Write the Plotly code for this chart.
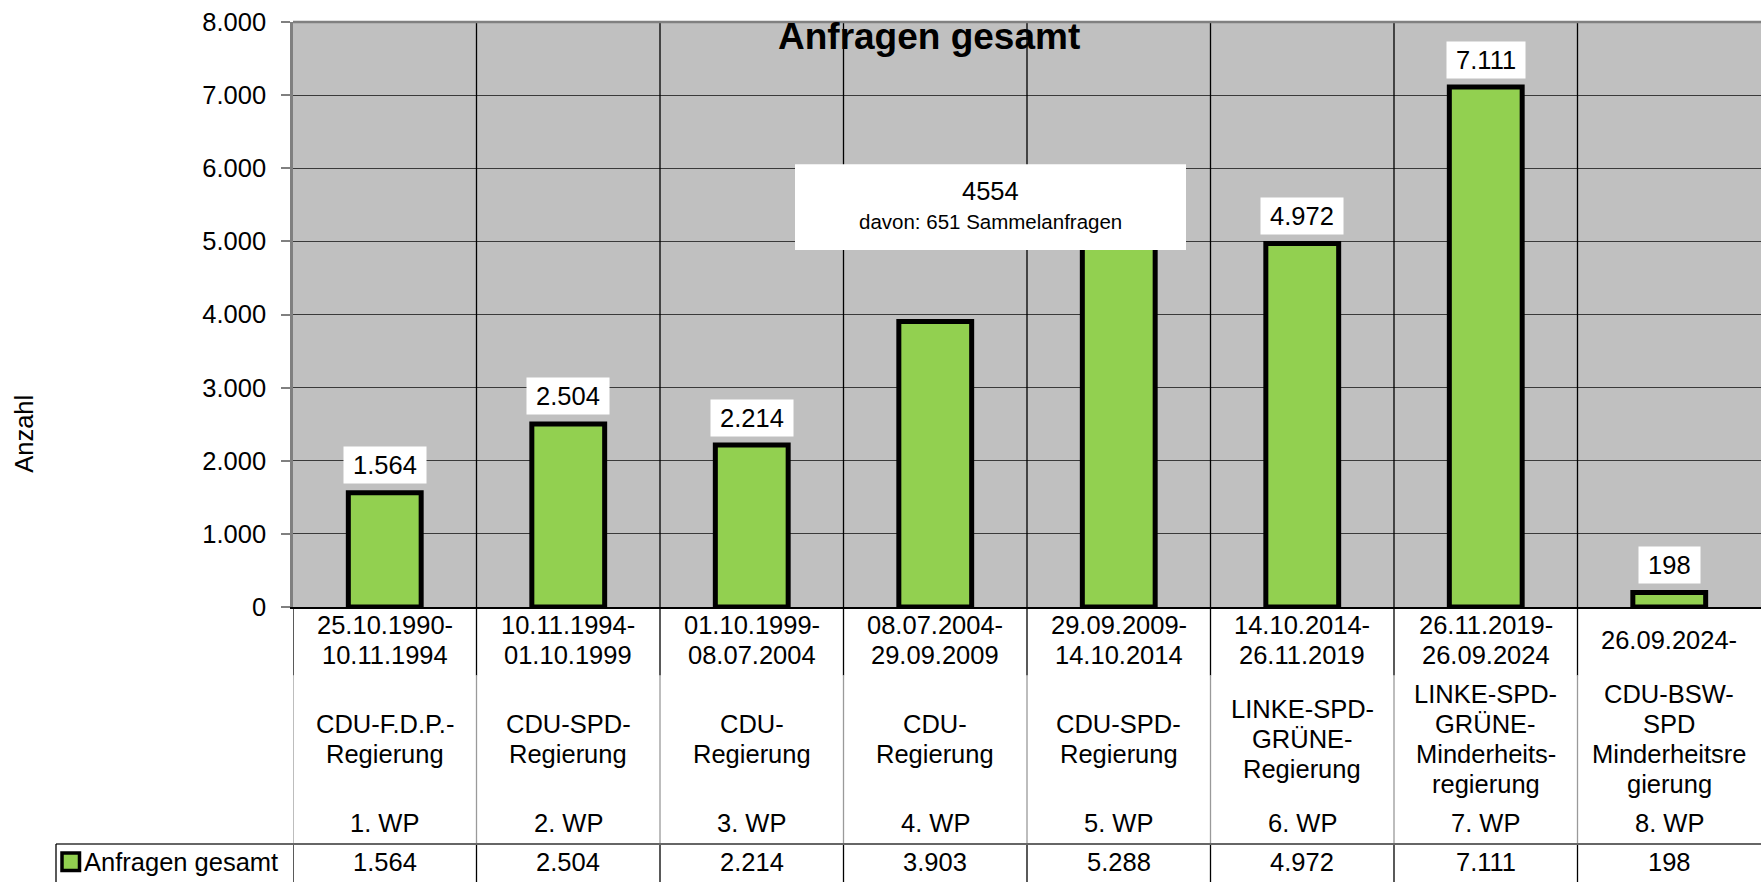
import plotly.graph_objects as go

# ---------------- data ----------------
periods = [
    "25.10.1990-\n10.11.1994",
    "10.11.1994-\n01.10.1999",
    "01.10.1999-\n08.07.2004",
    "08.07.2004-\n29.09.2009",
    "29.09.2009-\n14.10.2014",
    "14.10.2014-\n26.11.2019",
    "26.11.2019-\n26.09.2024",
    "26.09.2024-",
]
governments = [
    "CDU-F.D.P.-\nRegierung",
    "CDU-SPD-\nRegierung",
    "CDU-\nRegierung",
    "CDU-\nRegierung",
    "CDU-SPD-\nRegierung",
    "LINKE-SPD-\nGRÜNE-\nRegierung",
    "LINKE-SPD-\nGRÜNE-\nMinderheits-\nregierung",
    "CDU-BSW-\nSPD\nMinderheitsre\ngierung",
]
terms = ["1. WP", "2. WP", "3. WP", "4. WP", "5. WP", "6. WP", "7. WP", "8. WP"]
anfragen = [1564, 2504, 2214, 3903, 5288, 4972, 7111, 198]
series_name = "Anfragen gesamt"
chart_title = "Anfragen gesamt"
y_title = "Anzahl"
note_total = 4554
note_sammel = 651
# bars whose data label is not visible in the original (none / hidden by the note box)
hidden_labels = [3, 4]


def de(v):
    return f"{v:,}".replace(",", ".")


# ---------------- geometry (pixels) ----------------
W, H = 1761, 882
L, T, B = 293, 21.5, 607.5
PW, PH = W - L, B - T
FONT = "Liberation Sans, Arial, sans-serif"
FS = 25.5


def py(Y):
    return (B - Y) / PH


def px(X):
    return (X - L) / PW


def txt(x, y, text, xref="paper", size=FS, xanchor="center", **kw):
    d = dict(x=x, y=y, xref=xref, yref="paper", text=text, showarrow=False,
             xanchor=xanchor, yanchor="middle",
             font=dict(family=FONT, size=size, color="black"))
    d.update(kw)
    return d


n = len(anfragen)
xs = list(range(n))

fig = go.Figure()
fig.add_trace(go.Bar(
    x=xs, y=anfragen, width=0.397, name=series_name,
    marker=dict(color="#92D050", line=dict(color="black", width=5)),
    showlegend=False, hoverinfo="y",
))

shapes = []
annotations = []

# vertical column separators (through plot and table)
for k in range(n):
    xb = k - 0.5
    if k > 0:
        shapes.append(dict(type="line", xref="x", yref="paper", x0=xb, x1=xb,
                           y0=1, y1=py(676), line=dict(color="black", width=1.3)))
    else:
        shapes.append(dict(type="line", xref="x", yref="paper", x0=xb, x1=xb,
                           y0=0, y1=py(676), line=dict(color="black", width=1.3)))
    shapes.append(dict(type="line", xref="x", yref="paper", x0=xb, x1=xb,
                       y0=py(676), y1=py(845), line=dict(color="#9a9a9a", width=1.3)))
    shapes.append(dict(type="line", xref="x", yref="paper", x0=xb, x1=xb,
                       y0=py(845), y1=py(H + 2), line=dict(color="black", width=1.3)))

# table header line + legend cell border
shapes.append(dict(type="line", xref="paper", yref="paper", x0=px(56), x1=1.01,
                   y0=py(845), y1=py(845), line=dict(color="#666666", width=2)))
shapes.append(dict(type="line", xref="paper", yref="paper", x0=px(56), x1=px(56),
                   y0=py(845), y1=py(H + 2), line=dict(color="black", width=1.3)))
# top border of plot
shapes.append(dict(type="line", xref="paper", yref="paper", x0=0, x1=1,
                   y0=1, y1=1, line=dict(color="#808080", width=2.5)))

# legend key square
shapes.append(dict(type="rect", xref="paper", yref="paper",
                   x0=px(62), x1=px(79.5), y0=py(854), y1=py(871.5),
                   fillcolor="#92D050", line=dict(color="black", width=3.5)))

# note box
shapes.append(dict(type="rect", xref="paper", yref="paper",
                   x0=px(795), x1=px(1186), y0=py(164), y1=py(250),
                   fillcolor="white", line=dict(width=0)))

# data labels
for i, v in enumerate(anfragen):
    if i in hidden_labels:
        continue
    annotations.append(dict(
        x=i, y=v, xref="x", yref="y", text="\u2009" + de(v) + "\u2009",
        showarrow=False, xanchor="center", yanchor="bottom", yshift=8.5,
        bgcolor="white", borderpad=4,
        font=dict(family=FONT, size=FS, color="black"),
    ))

# note text
annotations.append(txt(px(990.5), py(191), str(note_total)))
annotations.append(txt(px(990.5), py(221), f"davon: {note_sammel} Sammelanfragen", size=20.5))

# title
annotations.append(txt(px(929), py(36), f"<b>{chart_title}</b>", size=37))

# y-axis title
annotations.append(txt(px(24), py(434), y_title, textangle=-90))

# category table text
LS = 30
for i in range(n):
    for block, cy in ((periods[i], 641), (governments[i], 740), (terms[i], 823.5)):
        lines = block.split("\n")
        m = len(lines)
        for k, line in enumerate(lines):
            yy = cy + (k - (m - 1) / 2) * LS
            annotations.append(txt(i, py(yy), line, xref="x"))
    annotations.append(txt(i, py(863), de(anfragen[i]), xref="x"))

annotations.append(txt(px(82), py(863), series_name, xanchor="left"))

fig.update_layout(
    width=W, height=H,
    margin=dict(l=L, r=0, t=T, b=H - B, autoexpand=False),
    paper_bgcolor="white", plot_bgcolor="#C0C0C0",
    separators=",.",
    showlegend=False,
    font=dict(family=FONT, size=FS, color="black"),
    shapes=shapes, annotations=annotations,
)
fig.update_xaxes(range=[-0.5, n - 0.5], showticklabels=False, ticks="",
                 showgrid=False, zeroline=False, showline=True,
                 linecolor="black", linewidth=2, fixedrange=True)
fig.update_yaxes(range=[0, 8000], dtick=1000, tickformat=",d",
                 showgrid=True, gridcolor="#3a3a3a", gridwidth=1.3,
                 zeroline=False, showline=True, linecolor="#808080", linewidth=2.5,
                 ticks="outside", ticklen=9, tickcolor="#808080", tickwidth=1.5,
                 ticklabelstandoff=10,
                 tickfont=dict(family=FONT, size=FS, color="black"), fixedrange=True)

fig.write_html("out.html", config={"displayModeBar": False},
               post_script="document.body.style.margin='0';")
